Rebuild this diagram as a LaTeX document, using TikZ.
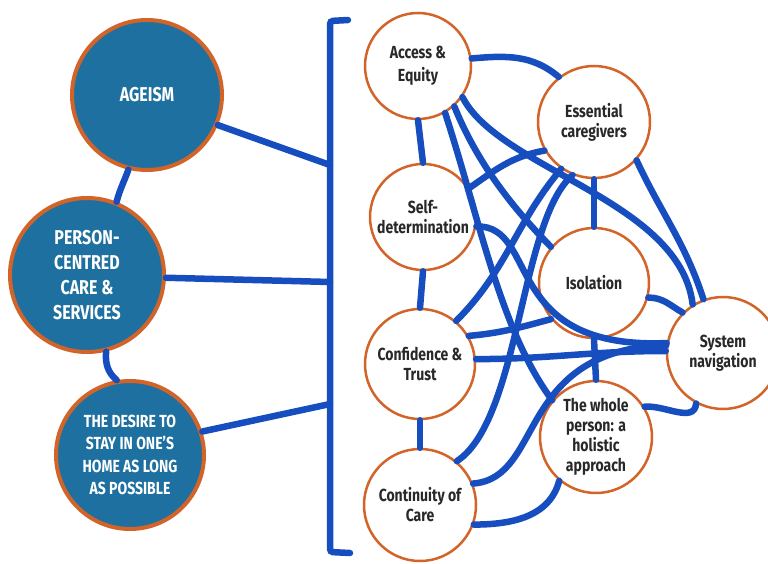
\documentclass[tikz,border=0pt]{standalone}
\usepackage{fontspec}
\setmainfont[FakeStretch=0.8]{Fira Sans}
\definecolor{themeblue}{RGB}{30,112,160}
\definecolor{rimorange}{RGB}{210,100,42}
\definecolor{linkblue}{RGB}{22,78,192}
\definecolor{labelgray}{RGB}{40,40,40}
\tikzset{bignode/.style={circle,fill=themeblue,draw=rimorange,line width=4pt,inner sep=0pt,align=center,text=white}}
\tikzset{smallnode/.style={circle,fill=white,draw=rimorange,line width=2.5pt,inner sep=0pt,align=center,text=labelgray,minimum size=110pt,font=\fontsize{17.5}{20}\selectfont\bfseries}}
\tikzset{link/.style={linkblue,line width=6.5pt,line cap=round}}

\begin{document}
\begin{tikzpicture}[x=1pt,y=1pt]
	\useasboundingbox (0,0) rectangle (768,-564);

	% left column
	\node[bignode,minimum size=150pt,font=\fontsize{20}{25}\selectfont\bfseries] (age) at (147,-95) {AGEISM};
	\node[bignode,minimum size=154pt,font=\fontsize{20}{25}\selectfont\bfseries] (pcc) at (87,-275) {PERSON-\\CENTRED\\CARE \&\\SERVICES};
	\node[bignode,minimum size=148pt,font=\fontsize{17.5}{22.5}\selectfont\bfseries] (des) at (130,-455) {THE DESIRE TO\\STAY IN ONE'S\\HOME AS LONG\\AS POSSIBLE};

	% bracket
	\coordinate (bt) at (348,-20);
	\coordinate (bb) at (350,-553);
	\draw[link,rounded corners=3pt] (bt) -- (330,-21) -- (330,-552) -- (bb);
	\coordinate (b1) at (330,-165);
	\coordinate (b2) at (330,-282);
	\coordinate (b3) at (330,-404);

	\draw[link] (age.-23) -- (b1);
	\draw[link] (pcc.-2) -- (b2);
	\draw[link] (des.18) -- (b3);
	\draw[link] (age.-104) to[out=-110,in=75] (pcc.68);
	\draw[link] (pcc.-76) to[out=-95,in=140] (des.100);

	% right column
	\node[smallnode,minimum size=106pt,font=\fontsize{17.5}{23}\selectfont\bfseries] (acc) at (418,-66) {Access \&\\Equity};
	\node[smallnode,minimum size=112pt] (ess) at (594,-122) {Essential\\caregivers};
	\node[smallnode,minimum size=106pt] (self) at (423,-217) {Self-\\determination};
	\node[smallnode] (iso) at (594,-283) {Isolation};
	\node[smallnode] (conf) at (420,-364) {Confidence \&\\Trust};
	\node[smallnode,minimum size=112pt] (sys) at (723,-353) {System\\navigation};
	\node[smallnode,minimum size=112pt] (whole) at (596,-437) {The whole\\person: a\\holistic\\approach};
	\node[smallnode,minimum size=112pt] (cont) at (420,-505) {Continuity of\\Care};

	% links between themes
	\draw[link] (acc.-90) -- (self.90);
	\draw[link] (self.-90) -- (conf.90);
	\draw[link] (conf.-90) -- (cont.90);
	\draw[link] (ess.-90) -- (iso.90);
	\draw[link] (iso.-90) -- (whole.90);
	\draw[link] (acc.8) to[out=5,in=140] (ess.128);
	\draw[link] (acc.-35) .. controls (500,-170) and (680,-200) .. (sys.122);
	\draw[link] (acc.-48) .. controls (480,-170) and (520,-215) .. (iso.140);
	\draw[link] (acc.-60) .. controls (480,-220) and (500,-330) .. (whole.140);
	\draw[link] (ess.-42) to[out=-65,in=108] (sys.110);
	\draw[link] (self.32) to[out=35,in=190] (ess.-150);
	\draw[link] (ess.-125) to[out=-130,in=45] (conf.50);
	\draw[link] (ess.-112) .. controls (520,-220) and (520,-420) .. (cont.50);
	\draw[link] (self.-10) .. controls (540,-225) and (500,-350) .. (sys.170);
	\draw[link] (conf.30) to[out=5,in=195] (iso.-140);
	\draw[link] (conf.5) to[out=0,in=180] (sys.178);
	\draw[link] (iso.-15) to[out=0,in=150] (sys.135);
	\draw[link] (whole.32) to[out=5,in=-95] (sys.-118);
	\draw[link] (cont.-20) to[out=0,in=-105] (whole.-130);
	\draw[link] (cont.22) .. controls (545,-478) and (515,-350) .. (sys.172);
\end{tikzpicture}
\end{document}
